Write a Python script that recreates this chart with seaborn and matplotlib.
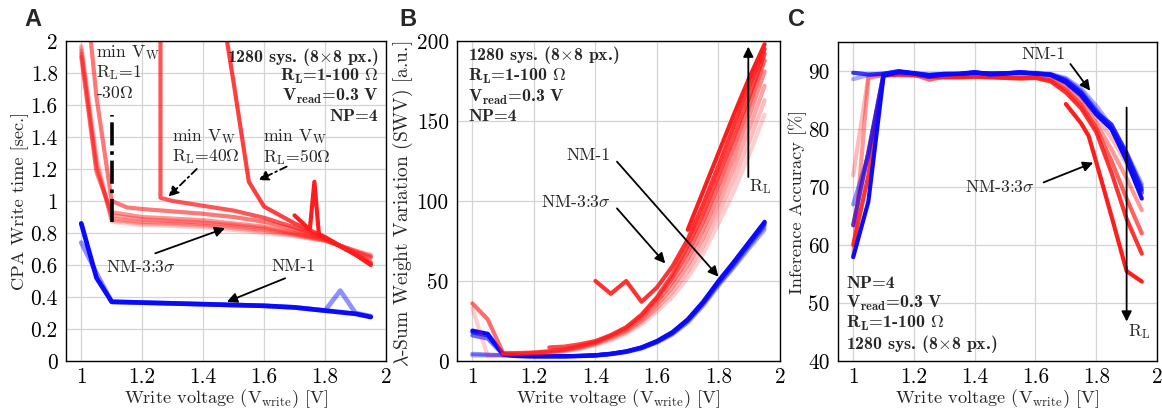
import matplotlib
matplotlib.use("Agg")
import matplotlib.pyplot as plt
import seaborn as sns

# ---------------- data ----------------
# Panel A: CPA write time [sec.]
A_red_x = [
    [1.0, 1.05, 1.1, 1.2, 1.3, 1.4, 1.5, 1.6, 1.7, 1.8, 1.9, 1.95],
    [1.0, 1.05, 1.1, 1.2, 1.3, 1.4, 1.5, 1.6, 1.7, 1.8, 1.9, 1.95],
    [1.0, 1.05, 1.1, 1.2, 1.3, 1.4, 1.5, 1.6, 1.7, 1.8, 1.9, 1.95],
    [1.0, 1.05, 1.1, 1.2, 1.3, 1.4, 1.5, 1.6, 1.7, 1.8, 1.9, 1.95],
    [1.0, 1.05, 1.1, 1.2, 1.3, 1.4, 1.5, 1.6, 1.7, 1.8, 1.9, 1.95],
    [1.0, 1.05, 1.1, 1.15, 1.2, 1.3, 1.4, 1.5, 1.6, 1.7, 1.8, 1.9, 1.95],
    [1.26, 1.26, 1.3, 1.4, 1.5, 1.6, 1.7, 1.8, 1.9, 1.95],
    [1.47, 1.5, 1.55, 1.6, 1.7, 1.8, 1.9, 1.95],
    [1.7, 1.75, 1.765, 1.78, 1.8, 1.9, 1.95],
]
A_red_y = [
    [1.97, 1.28, 0.87, 0.85, 0.845, 0.835, 0.82, 0.80, 0.78, 0.75, 0.69, 0.665],
    [1.96, 1.25, 0.88, 0.86, 0.855, 0.845, 0.83, 0.81, 0.785, 0.75, 0.69, 0.66],
    [1.94, 1.22, 0.89, 0.87, 0.865, 0.855, 0.84, 0.82, 0.79, 0.755, 0.685, 0.655],
    [1.92, 1.20, 0.91, 0.885, 0.875, 0.865, 0.85, 0.83, 0.795, 0.755, 0.685, 0.65],
    [1.90, 1.18, 0.93, 0.90, 0.89, 0.88, 0.86, 0.84, 0.80, 0.76, 0.68, 0.645],
    [2.6, 1.65, 1.0, 0.96, 0.95, 0.935, 0.92, 0.90, 0.87, 0.82, 0.765, 0.67, 0.62],
    [2.2, 1.02, 1.0, 0.97, 0.94, 0.895, 0.835, 0.77, 0.665, 0.61],
    [2.1, 1.74, 1.12, 0.965, 0.86, 0.775, 0.665, 0.605],
    [0.91, 0.82, 1.12, 0.79, 0.77, 0.665, 0.60],
]
A_blue_x = [
    [1.0, 1.05, 1.1, 1.2, 1.3, 1.4, 1.5, 1.6, 1.7, 1.8, 1.85, 1.9, 1.95],
    [1.0, 1.05, 1.1, 1.2, 1.3, 1.4, 1.5, 1.6, 1.7, 1.8, 1.9, 1.95],
]
A_blue_y = [
    [0.74, 0.55, 0.37, 0.365, 0.36, 0.355, 0.35, 0.345, 0.335, 0.315, 0.44, 0.30, 0.28],
    [0.86, 0.52, 0.37, 0.365, 0.36, 0.355, 0.35, 0.345, 0.335, 0.315, 0.295, 0.275],
]
A_minvw_x = [1.1]
A_minvw_y = [0.87, 1.54]

# Panel B: lambda-sum weight variation
B_grid = [1.0, 1.05, 1.1, 1.15, 1.2, 1.25, 1.3, 1.35, 1.4, 1.45, 1.5,
          1.55, 1.6, 1.65, 1.7, 1.75, 1.8, 1.85, 1.9, 1.95]
B_blue_y = [
    [3.5, 3.5, 3.5, 3, 2.8, 2.8, 2.8, 3, 3.3, 4.2, 5.5, 7.8, 11.5, 16.5, 24, 34.5, 47, 58.5, 70.5, 82],
    [4.5, 4, 3.6, 3, 2.9, 2.9, 2.9, 3.1, 3.4, 4.3, 5.7, 8, 11.8, 17, 24.8, 35.5, 48, 59.5, 72, 84],
    [16, 14, 4, 3.1, 3, 3, 3, 3.1, 3.5, 4.4, 5.8, 8.2, 12.1, 17.5, 25.4, 36.2, 49, 60.8, 73.2, 85.5],
    [18, 16, 4.3, 3.2, 3, 3, 3, 3.2, 3.6, 4.5, 6, 8.4, 12.3, 17.8, 25.8, 36.6, 49.6, 61.5, 74, 86.3],
    [19, 17, 4, 3.2, 3, 3, 3, 3.2, 3.6, 4.5, 6, 8.5, 12.5, 18, 26, 37, 50, 62, 74.5, 87],
]
B_red_x = [
    B_grid, B_grid[2:], B_grid[2:], B_grid[2:], B_grid,
    [1.25, 1.3, 1.35, 1.4, 1.45, 1.5, 1.55, 1.6, 1.65, 1.7, 1.75, 1.8, 1.85, 1.9, 1.95],
    [1.4, 1.45, 1.5, 1.55, 1.6, 1.65, 1.7, 1.75, 1.8, 1.85, 1.9, 1.95],
    [1.7, 1.75, 1.8, 1.85, 1.9, 1.95],
]
B_red_y = [
    [33, 3, 4, 4.2, 4.5, 5, 6, 7.5, 10, 13, 17, 23, 31, 40, 52, 67, 86, 106, 129, 154],
    [4.2, 4.4, 4.8, 5.3, 6.3, 8, 10.5, 14, 18, 24.5, 33, 43, 56, 72, 92, 113, 137, 163],
    [4.4, 4.6, 5, 5.6, 6.7, 8.5, 11, 14.8, 19, 25.5, 35, 46, 60, 77, 98, 120, 145, 172],
    [4.6, 4.8, 5.2, 5.9, 7, 9, 11.5, 15.5, 20, 27, 37, 49, 64, 82, 104, 127, 153, 181],
    [36, 26, 5, 5, 5.3, 6.2, 7.4, 9.5, 12, 16.2, 21, 28.5, 39, 52, 68, 87, 110, 134, 160, 188],
    [8.5, 9, 10.5, 12.5, 16, 21, 29, 40, 54, 72, 92, 116, 140, 165, 192],
    [50, 42, 50, 37, 46, 59, 76, 98, 122, 147, 172, 195],
    [82, 106, 130, 154, 177, 198],
]

# Panel C: inference accuracy [%]
C_grid = [1.0, 1.05, 1.1, 1.15, 1.2, 1.25, 1.3, 1.35, 1.4, 1.45, 1.5,
          1.55, 1.6, 1.65, 1.7, 1.75, 1.8, 1.85, 1.9, 1.95]
C_red_x = [C_grid, C_grid, C_grid, C_grid, [1.7, 1.75, 1.775, 1.8, 1.85, 1.9, 1.95]]
C_red_y = [
    [72, 89, 89.3, 89.3, 89.3, 89.2, 89.2, 89.1, 89.2, 89.1, 89.0, 89.0, 89.0, 88.8, 87.8, 85.5, 82.0, 78.5, 74.0, 69.0],
    [58.2, 88.8, 89.3, 89.3, 89.2, 89.1, 89.0, 89.0, 89.2, 89.0, 88.9, 88.9, 89.0, 88.6, 87.2, 84.8, 81.0, 76.5, 71.5, 66.0],
    [63.4, 76.0, 89.4, 89.5, 89.4, 88.5, 89.0, 89.0, 89.1, 89.0, 88.9, 88.8, 88.9, 88.4, 86.8, 84.2, 80.2, 74.5, 68.0, 62.0],
    [60, 72, 89.2, 89.4, 89.3, 89.0, 88.9, 88.9, 89.0, 88.9, 88.8, 88.7, 88.8, 88.2, 86.3, 83.6, 79.5, 72.5, 64.5, 58.5],
    [84.3, 81.0, 78.8, 74.3, 65.0, 55.5, 53.7],
]
C_blue_y = [
    [88.6, 89.3, 89.6, 89.9, 89.7, 89.4, 89.5, 89.6, 89.8, 89.5, 89.6, 89.8, 89.7, 89.5, 88.8, 87.0, 84.0, 80.5, 76.0, 70.5],
    [67.0, 75.5, 89.4, 89.8, 89.6, 89.3, 89.5, 89.5, 89.7, 89.5, 89.6, 89.7, 89.6, 89.4, 88.6, 86.6, 83.3, 80.2, 75.5, 70.0],
    [63.4, 76.0, 89.5, 89.9, 89.6, 89.2, 89.4, 89.5, 89.8, 89.4, 89.5, 89.8, 89.6, 89.4, 88.4, 86.3, 83.0, 80.0, 75.2, 69.0],
    [89.7, 89.4, 89.5, 90.0, 89.6, 89.0, 89.4, 89.5, 89.8, 89.4, 89.6, 89.8, 89.5, 89.4, 88.3, 86.2, 82.8, 80.8, 75.8, 69.5],
    [57.9, 67.5, 89.2, 89.8, 89.6, 89.3, 89.5, 89.5, 89.7, 89.6, 89.6, 89.7, 89.6, 89.3, 88.0, 85.8, 82.5, 80.0, 74.5, 68.0],
]

x_ticks = [1.0, 1.2, 1.4, 1.6, 1.8, 2.0]
x_ticklabels = ["1", "1.2", "1.4", "1.6", "1.8", "2"]
A_yticks = [0, 0.2, 0.4, 0.6, 0.8, 1.0, 1.2, 1.4, 1.6, 1.8, 2.0]
A_yticklabels = ["0", "0.2", "0.4", "0.6", "0.8", "1", "1.2", "1.4", "1.6", "1.8", "2"]
B_yticks = [0, 50, 100, 150, 200]
B_yticklabels = ["0", "50", "100", "150", "200"]
C_yticks = [40, 50, 60, 70, 80, 90]
C_yticklabels = ["40", "50", "60", "70", "80", "90"]

# ---------------- styles ----------------
A_red_alpha = [0.22, 0.28, 0.34, 0.40, 0.48, 0.6, 0.75, 0.85, 1.0]
A_blue_alpha = [0.45, 1.0]
B_red_alpha = [0.22, 0.3, 0.4, 0.5, 0.65, 0.8, 0.9, 1.0]
B_blue_alpha = [0.35, 0.45, 0.6, 0.8, 1.0]
C_red_alpha = [0.3, 0.45, 0.7, 0.9, 1.0]
C_blue_alpha = [0.35, 0.45, 0.6, 0.8, 1.0]
RED = "#ff1c1c"
BLUE = "#0a0aff"
LW = 3.0

sns.set_theme(style="whitegrid")
plt.rcParams['font.family'] = ['cmr10', 'DejaVu Serif']
plt.rcParams['mathtext.fontset'] = 'cm'
plt.rcParams['axes.formatter.use_mathtext'] = True
plt.rcParams['axes.unicode_minus'] = False

fig = plt.figure(figsize=(11.62, 4.11), dpi=100)
axA = fig.add_axes([66 / 1162, 50 / 411, 320 / 1162, 320 / 411])
axB = fig.add_axes([457 / 1162, 50 / 411, 323 / 1162, 320 / 411])
axC = fig.add_axes([838 / 1162, 50 / 411, 319 / 1162, 319 / 411])


def draw(ax, xs_list, ys_list, alphas, color, lw=LW):
    for xs, ys, a in zip(xs_list, ys_list, alphas):
        sns.lineplot(x=xs, y=ys, color=color, alpha=a, lw=lw, estimator=None,
                     sort=False, ax=ax, legend=False)


draw(axA, A_red_x, A_red_y, A_red_alpha, RED)
draw(axA, A_blue_x, A_blue_y, A_blue_alpha, BLUE, 3.4)
axA.vlines(A_minvw_x, A_minvw_y[0], A_minvw_y[1], colors='black', linestyles='-.', lw=2.6)

draw(axB, [B_grid] * len(B_blue_y), B_blue_y, B_blue_alpha, BLUE)
draw(axB, B_red_x, B_red_y, B_red_alpha, RED)

draw(axC, C_red_x, C_red_y, C_red_alpha, RED)
draw(axC, [C_grid] * len(C_blue_y), C_blue_y, C_blue_alpha, BLUE)

TICK_FS = 15.3
LABEL_FS = 13.2
ANN_FS = 12.7
BOLD_FS = 12.8
xlabel = r"Write voltage (V$_{\mathrm{write}}$) [V]"

for ax, yt, ytl, ylim, ylab, yfs in [
        (axA, A_yticks, A_yticklabels, (0, 2), "CPA Write time [sec.]", LABEL_FS),
        (axB, B_yticks, B_yticklabels, (0, 200), r"$\lambda$-Sum Weight Variation (SWV) [a.u.]", 14.0),
        (axC, C_yticks, C_yticklabels, (40, 95), "Inference Accuracy [%]", LABEL_FS)]:
    ax.set_facecolor("white")
    ax.set_xlim(0.95, 2.0)
    ax.set_ylim(*ylim)
    ax.set_xticks(x_ticks)
    ax.set_xticklabels(x_ticklabels)
    ax.set_yticks(yt)
    ax.set_yticklabels(ytl)
    ax.grid(True, color="#d4d4d4", lw=0.9)
    for s in ax.spines.values():
        s.set_color("black")
        s.set_linewidth(1.0)
    ax.tick_params(labelsize=TICK_FS, length=0, colors="black")
    ax.tick_params(axis="y", pad=6)
    ax.tick_params(axis="x", pad=5)
    ax.set_xlabel(xlabel, fontsize=LABEL_FS, labelpad=0)
    ax.set_ylabel(ylab, fontsize=yfs, labelpad=1)

axB.yaxis.set_label_coords(-0.13, 0.49)

arrow_kw = dict(arrowstyle="-|>", color="black", lw=1.3, mutation_scale=15, shrinkA=0, shrinkB=0)
dash_kw = dict(arrowstyle="-|>", color="black", lw=1.3, mutation_scale=15, shrinkA=0, shrinkB=0,
               linestyle=(0, (4, 2, 1, 2)))
bold = dict(family=['cmb10', 'DejaVu Serif'], fontsize=BOLD_FS)

# ---- Panel A annotations
axA.text(1.05, 1.925, r"min V$_{\mathrm{W}}$", fontsize=ANN_FS, va="center")
axA.text(1.05, 1.80, r"R$_{\mathrm{L}}$=1", fontsize=ANN_FS, va="center")
axA.text(1.05, 1.675, r"-30$\Omega$", fontsize=ANN_FS, va="center")
axA.text(1.297, 1.40, r"min V$_{\mathrm{W}}$", fontsize=ANN_FS, va="center")
axA.text(1.297, 1.277, r"R$_{\mathrm{L}}$=40$\Omega$", fontsize=ANN_FS, va="center")
axA.text(1.598, 1.40, r"min V$_{\mathrm{W}}$", fontsize=ANN_FS, va="center")
axA.text(1.598, 1.277, r"R$_{\mathrm{L}}$=50$\Omega$", fontsize=ANN_FS, va="center")
axA.annotate("", xy=(1.286, 1.027), xytext=(1.379, 1.20), arrowprops=dash_kw)
axA.annotate("", xy=(1.581, 1.13), xytext=(1.674, 1.215), arrowprops=dash_kw)
axA.text(1.196, 0.59, r"NM-3:3$\sigma$", fontsize=ANN_FS, ha="center", va="center")
axA.annotate("", xy=(1.472, 0.83), xytext=(1.243, 0.673), arrowprops=arrow_kw)
axA.text(1.698, 0.59, "NM-1", fontsize=ANN_FS, ha="center", va="center")
axA.annotate("", xy=(1.478, 0.37), xytext=(1.669, 0.517), arrowprops=arrow_kw)
for yy, s in zip([1.90, 1.777, 1.652, 1.527],
                 [r"1280 sys. (8$\times$8 px.)", r"R$_{\mathbf{L}}$=1-100 $\Omega$",
                  r"V$_{\mathbf{read}}$=0.3 V", "NP=4"]):
    axA.text(1.975, yy, s, ha="right", va="center", **bold)

# ---- Panel B annotations
for yy, s in zip([191, 178, 165, 152.6],
                 [r"1280 sys. (8$\times$8 px.)", r"R$_{\mathbf{L}}$=1-100 $\Omega$",
                  r"V$_{\mathbf{read}}$=0.3 V", "NP=4"]):
    axB.text(0.987, yy, s, ha="left", va="center", **bold)
axB.text(1.379, 128.75, "NM-1", fontsize=ANN_FS, ha="center", va="center")
axB.annotate("", xy=(1.80, 52.7), xytext=(1.47, 124.6), arrowprops=arrow_kw)
axB.text(1.336, 99.6, r"NM-3:3$\sigma$", fontsize=ANN_FS, ha="center", va="center")
axB.annotate("", xy=(1.627, 61), xytext=(1.47, 95.4), arrowprops=arrow_kw)
axB.annotate("", xy=(1.897, 196.5), xytext=(1.897, 115), arrowprops=arrow_kw)
axB.text(1.9, 109, r"R$_{\mathrm{L}}$", fontsize=ANN_FS, ha="left", va="center")

# ---- Panel C annotations
for yy, s in zip([53.35, 49.9, 46.5, 43.0],
                 ["NP=4", r"V$_{\mathbf{read}}$=0.3 V", r"R$_{\mathbf{L}}$=1-100 $\Omega$",
                  r"1280 sys. (8$\times$8 px.)"]):
    axC.text(0.977, yy, s, ha="left", va="center", **bold)
axC.text(1.625, 92.9, "NM-1", fontsize=ANN_FS, ha="center", va="center")
axC.annotate("", xy=(1.78, 86.6), xytext=(1.715, 91.2), arrowprops=arrow_kw)
axC.text(1.482, 69.95, r"NM-3:3$\sigma$", fontsize=ANN_FS, ha="center", va="center")
axC.annotate("", xy=(1.79, 74.2), xytext=(1.627, 70.8), arrowprops=arrow_kw)
axC.annotate("", xy=(1.90, 46.8), xytext=(1.90, 83.7), arrowprops=arrow_kw)
axC.text(1.906, 45.0, r"R$_{\mathrm{L}}$", fontsize=ANN_FS, ha="left", va="center")

# panel letters
for x, y, s in [(33, 20, "A"), (408, 20, "B"), (797, 20, "C")]:
    fig.text(x / 1162, 1 - y / 411, s, fontsize=17, fontweight="bold",
             family="Liberation Sans", ha="center", va="center")

fig.savefig("out.png", dpi=100)
